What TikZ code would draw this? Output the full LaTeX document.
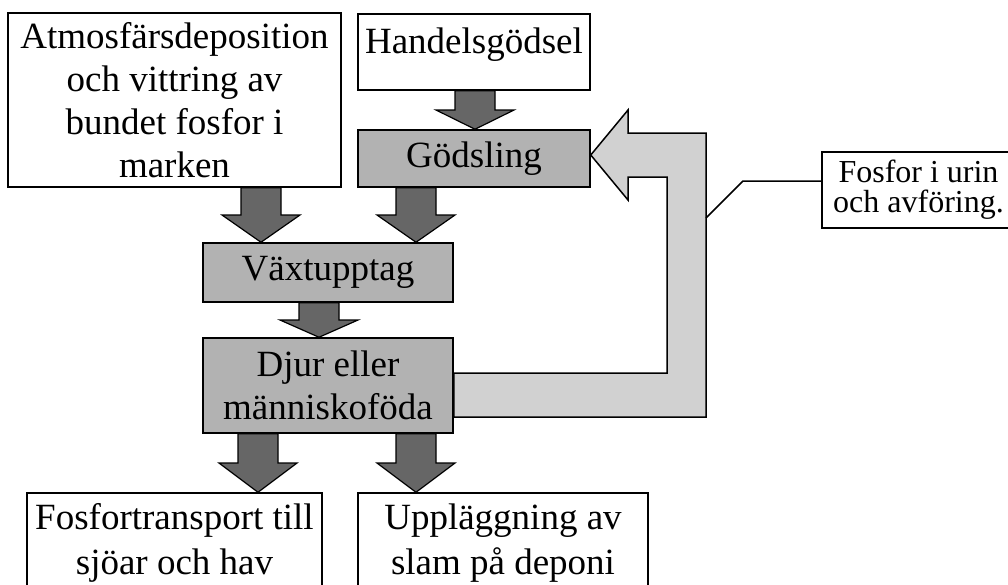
\documentclass[tikz,border=0pt]{standalone}
\usepackage{fontspec}
\setmainfont{Liberation Serif}
\usetikzlibrary{calc}

% fat down arrow: x position, upper node, lower node
\newcommand\pil[3]{%
  \draw[pil] let \p1=(#1,0 |- #2.south), \p2=(#1,0 |- #3.north),
    \p3=($(\p1)!0.5!(\p2)$) in
    (\x1-20pt,\y1) -- (\x1+20pt,\y1) -- (\x1+20pt,\y3) -- (\x1+39pt,\y3)
    -- (\x1,\y2) -- (\x1-39pt,\y3) -- (\x1-20pt,\y3) -- cycle;}

\begin{document}
\begin{tikzpicture}
[x=1pt, y=-1pt,
ruta/.style={draw, line width=1.5pt, inner sep=0pt, align=center, font=\fontsize{37}{43}\selectfont},
gra/.style={ruta, fill=black!30},
pil/.style={draw, line width=1.2pt, fill=black!60, line join=miter},
retur/.style={draw, line width=1.5pt, fill=black!18, line join=miter}]
\useasboundingbox (0,0) rectangle (1008,584);
\clip (0,0) rectangle (1008,584);

\node[ruta, minimum width=333pt, minimum height=174pt] (atmos) at (174.5,100) {Atmosfärsdeposition\\och vittring av\\bundet fosfor i\\marken};
\node[ruta, minimum width=232pt, text height=39pt, text depth=37pt] (handel) at (474,52) {Handelsgödsel};
\node[gra, minimum width=232pt, minimum height=57pt] (godsling) at (474,158.5) {Gödsling};
\node[gra, minimum width=250pt, minimum height=59pt] (vaxt) at (328,272.5) {Växtupptag};
\node[gra, minimum width=250pt, minimum height=95pt] (djur) at (328,385.5) {Djur eller\\människoföda};
\node[ruta, minimum width=295pt, minimum height=100pt, font=\fontsize{37}{45}\selectfont] (sjo) at (174.5,543) {Fosfortransport till\\sjöar och hav};
\node[ruta, minimum width=290pt, minimum height=100pt, font=\fontsize{37}{45}\selectfont] (deponi) at (503,543) {Uppläggning av\\slam på deponi};
\node[ruta, minimum width=193pt, minimum height=76pt, font=\fontsize{32}{30}\selectfont] (urin) at (918.5,190) {Fosfor i urin\\och avföring.};

\pil{261}{atmos}{vaxt}
\pil{475}{handel}{godsling}
\pil{416}{godsling}{vaxt}
\pil{319}{vaxt}{djur}
\pil{258}{djur}{sjo}
\pil{416}{djur}{deponi}

\draw[retur] (djur.east |- 0,373) -- (667,373) -- (667,177) -- (628,177) -- (628,200)
  -- (godsling.east |- 0,155) -- (628,110) -- (628,133) -- (706,133) -- (706,417)
  -- (djur.east |- 0,417) -- cycle;

\coordinate (knack) at (743,181);
\coordinate (fot) at (706,218);
\draw[line width=1.5pt] (urin.west |- knack) -- (knack) -- (fot);
\end{tikzpicture}
\end{document}
